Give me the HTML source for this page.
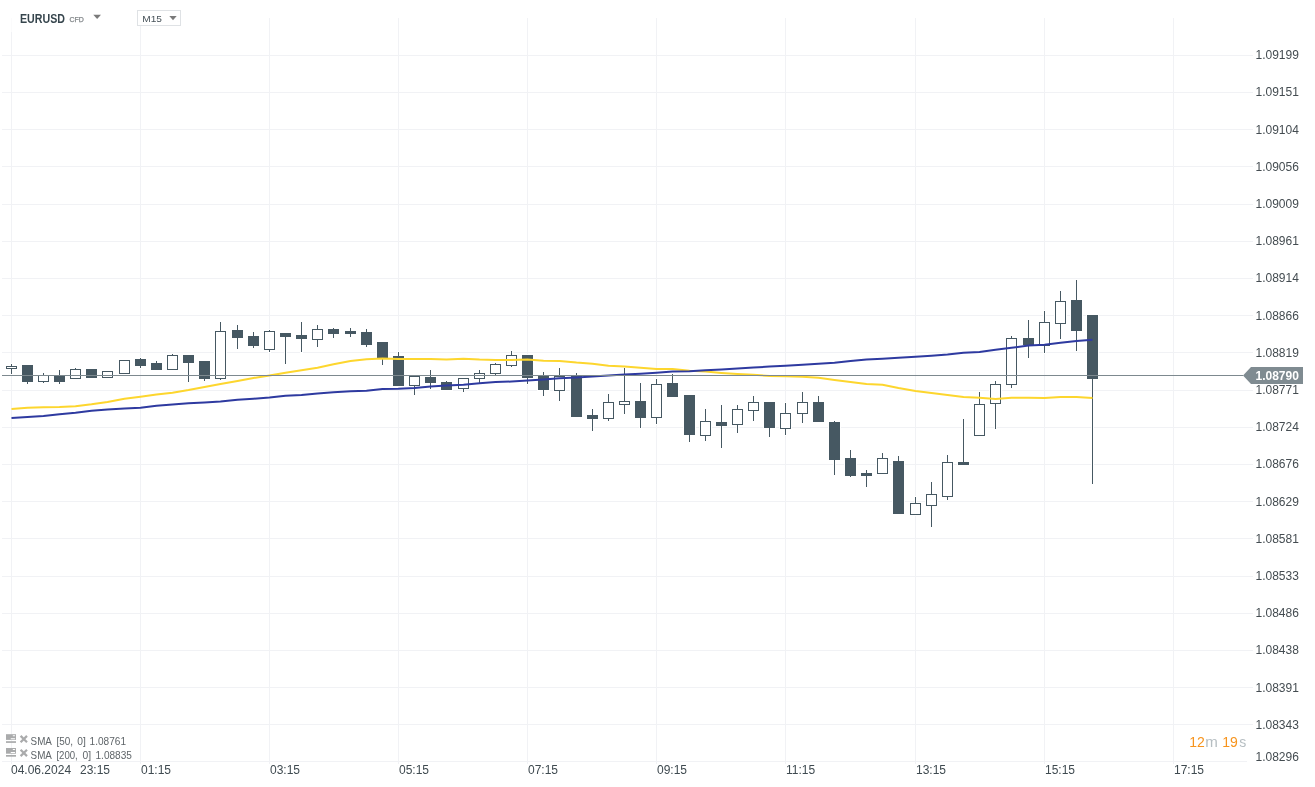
<!DOCTYPE html>
<html><head><meta charset="utf-8"><style>
html,body{margin:0;padding:0;background:#fff;}
body{width:1315px;height:787px;overflow:hidden;font-family:"Liberation Sans",sans-serif;}
svg{display:block;will-change:transform;}
</style></head><body>
<svg width="1315" height="787" viewBox="0 0 1315 787">
<rect width="1315" height="787" fill="#fff"/>
<rect x="11" y="18" width="1" height="746" fill="#f1f2f5"/>
<rect x="140" y="18" width="1" height="746" fill="#f1f2f5"/>
<rect x="269" y="18" width="1" height="746" fill="#f1f2f5"/>
<rect x="398" y="18" width="1" height="746" fill="#f1f2f5"/>
<rect x="527" y="18" width="1" height="746" fill="#f1f2f5"/>
<rect x="656" y="18" width="1" height="746" fill="#f1f2f5"/>
<rect x="785" y="18" width="1" height="746" fill="#f1f2f5"/>
<rect x="915" y="18" width="1" height="746" fill="#f1f2f5"/>
<rect x="1044" y="18" width="1" height="746" fill="#f1f2f5"/>
<rect x="1173" y="18" width="1" height="746" fill="#f1f2f5"/>
<rect x="2" y="55" width="1251" height="1" fill="#f1f2f5"/>
<rect x="2" y="92" width="1251" height="1" fill="#f1f2f5"/>
<rect x="2" y="129" width="1251" height="1" fill="#f1f2f5"/>
<rect x="2" y="166" width="1251" height="1" fill="#f1f2f5"/>
<rect x="2" y="204" width="1251" height="1" fill="#f1f2f5"/>
<rect x="2" y="241" width="1251" height="1" fill="#f1f2f5"/>
<rect x="2" y="278" width="1251" height="1" fill="#f1f2f5"/>
<rect x="2" y="315" width="1251" height="1" fill="#f1f2f5"/>
<rect x="2" y="352" width="1251" height="1" fill="#f1f2f5"/>
<rect x="2" y="390" width="1251" height="1" fill="#f1f2f5"/>
<rect x="2" y="427" width="1251" height="1" fill="#f1f2f5"/>
<rect x="2" y="464" width="1251" height="1" fill="#f1f2f5"/>
<rect x="2" y="501" width="1251" height="1" fill="#f1f2f5"/>
<rect x="2" y="538" width="1251" height="1" fill="#f1f2f5"/>
<rect x="2" y="576" width="1251" height="1" fill="#f1f2f5"/>
<rect x="2" y="613" width="1251" height="1" fill="#f1f2f5"/>
<rect x="2" y="650" width="1251" height="1" fill="#f1f2f5"/>
<rect x="2" y="687" width="1251" height="1" fill="#f1f2f5"/>
<rect x="2" y="724" width="1251" height="1" fill="#f1f2f5"/>
<rect x="2" y="761" width="1245" height="1" fill="#f1f2f5"/>
<rect x="0" y="18" width="110" height="14" fill="#fff" fill-opacity="0.7"/>
<g fill="#fff"><rect x="5" y="365" width="13" height="5"/><rect x="10" y="363" width="3" height="3"/><rect x="10" y="369" width="3" height="6"/><rect x="21" y="364" width="13" height="19"/><rect x="26" y="382" width="3" height="3"/><rect x="37" y="374" width="13" height="9"/><rect x="42" y="372" width="3" height="3"/><rect x="42" y="382" width="3" height="2"/><rect x="53" y="375" width="13" height="8"/><rect x="58" y="369" width="3" height="7"/><rect x="58" y="382" width="3" height="3"/><rect x="69" y="368" width="13" height="12"/><rect x="74" y="367" width="3" height="2"/><rect x="85" y="368" width="13" height="11"/><rect x="101" y="370" width="13" height="9"/><rect x="118" y="359" width="13" height="16"/><rect x="134" y="358" width="13" height="9"/><rect x="139" y="357" width="3" height="2"/><rect x="139" y="366" width="3" height="3"/><rect x="150" y="362" width="13" height="9"/><rect x="155" y="360" width="3" height="3"/><rect x="166" y="354" width="13" height="17"/><rect x="171" y="353" width="3" height="2"/><rect x="182" y="354" width="13" height="10"/><rect x="187" y="363" width="3" height="20"/><rect x="198" y="360" width="13" height="20"/><rect x="203" y="379" width="3" height="3"/><rect x="214" y="330" width="13" height="50"/><rect x="219" y="321" width="3" height="10"/><rect x="219" y="379" width="3" height="2"/><rect x="231" y="329" width="13" height="10"/><rect x="236" y="324" width="3" height="6"/><rect x="236" y="338" width="3" height="12"/><rect x="247" y="335" width="13" height="12"/><rect x="252" y="331" width="3" height="5"/><rect x="252" y="346" width="3" height="3"/><rect x="263" y="330" width="13" height="21"/><rect x="268" y="329" width="3" height="2"/><rect x="268" y="350" width="3" height="3"/><rect x="279" y="332" width="13" height="6"/><rect x="284" y="337" width="3" height="28"/><rect x="295" y="334" width="13" height="6"/><rect x="300" y="321" width="3" height="14"/><rect x="300" y="339" width="3" height="14"/><rect x="311" y="328" width="13" height="13"/><rect x="316" y="324" width="3" height="5"/><rect x="316" y="340" width="3" height="8"/><rect x="327" y="328" width="13" height="7"/><rect x="332" y="327" width="3" height="2"/><rect x="332" y="334" width="3" height="5"/><rect x="344" y="330" width="13" height="5"/><rect x="349" y="327" width="3" height="4"/><rect x="349" y="334" width="3" height="4"/><rect x="360" y="331" width="13" height="15"/><rect x="365" y="328" width="3" height="4"/><rect x="365" y="345" width="3" height="3"/><rect x="376" y="341" width="13" height="18"/><rect x="381" y="358" width="3" height="8"/><rect x="392" y="355" width="13" height="32"/><rect x="397" y="351" width="3" height="5"/><rect x="408" y="375" width="13" height="12"/><rect x="413" y="386" width="3" height="10"/><rect x="424" y="376" width="13" height="8"/><rect x="429" y="369" width="3" height="8"/><rect x="429" y="383" width="3" height="7"/><rect x="440" y="381" width="13" height="10"/><rect x="445" y="380" width="3" height="2"/><rect x="457" y="377" width="13" height="13"/><rect x="462" y="389" width="3" height="4"/><rect x="473" y="372" width="13" height="8"/><rect x="478" y="369" width="3" height="4"/><rect x="478" y="379" width="3" height="5"/><rect x="489" y="363" width="13" height="12"/><rect x="494" y="362" width="3" height="2"/><rect x="494" y="374" width="3" height="2"/><rect x="505" y="354" width="13" height="13"/><rect x="510" y="350" width="3" height="5"/><rect x="510" y="366" width="3" height="2"/><rect x="521" y="354" width="13" height="25"/><rect x="526" y="378" width="3" height="7"/><rect x="537" y="375" width="13" height="16"/><rect x="542" y="371" width="3" height="5"/><rect x="542" y="390" width="3" height="7"/><rect x="553" y="375" width="13" height="17"/><rect x="558" y="367" width="3" height="9"/><rect x="558" y="391" width="3" height="11"/><rect x="570" y="375" width="13" height="43"/><rect x="575" y="372" width="3" height="4"/><rect x="586" y="414" width="13" height="6"/><rect x="591" y="408" width="3" height="7"/><rect x="591" y="419" width="3" height="13"/><rect x="602" y="401" width="13" height="19"/><rect x="607" y="393" width="3" height="9"/><rect x="607" y="419" width="3" height="3"/><rect x="618" y="400" width="13" height="6"/><rect x="623" y="367" width="3" height="34"/><rect x="623" y="405" width="3" height="10"/><rect x="634" y="400" width="13" height="19"/><rect x="639" y="382" width="3" height="19"/><rect x="639" y="418" width="3" height="11"/><rect x="650" y="383" width="13" height="36"/><rect x="655" y="378" width="3" height="6"/><rect x="655" y="418" width="3" height="7"/><rect x="666" y="382" width="13" height="16"/><rect x="671" y="373" width="3" height="10"/><rect x="683" y="394" width="13" height="42"/><rect x="688" y="435" width="3" height="8"/><rect x="699" y="420" width="13" height="17"/><rect x="704" y="408" width="3" height="13"/><rect x="704" y="436" width="3" height="6"/><rect x="715" y="421" width="13" height="6"/><rect x="720" y="404" width="3" height="18"/><rect x="720" y="426" width="3" height="23"/><rect x="731" y="408" width="13" height="18"/><rect x="736" y="404" width="3" height="5"/><rect x="736" y="425" width="3" height="9"/><rect x="747" y="401" width="13" height="11"/><rect x="752" y="395" width="3" height="7"/><rect x="752" y="411" width="3" height="11"/><rect x="763" y="401" width="13" height="28"/><rect x="768" y="428" width="3" height="10"/><rect x="779" y="412" width="13" height="18"/><rect x="784" y="402" width="3" height="11"/><rect x="784" y="429" width="3" height="7"/><rect x="796" y="401" width="13" height="14"/><rect x="801" y="391" width="3" height="11"/><rect x="801" y="414" width="3" height="10"/><rect x="812" y="401" width="13" height="22"/><rect x="817" y="395" width="3" height="7"/><rect x="828" y="421" width="13" height="40"/><rect x="833" y="420" width="3" height="2"/><rect x="833" y="460" width="3" height="16"/><rect x="844" y="457" width="13" height="20"/><rect x="849" y="449" width="3" height="9"/><rect x="849" y="476" width="3" height="2"/><rect x="860" y="472" width="13" height="5"/><rect x="865" y="469" width="3" height="4"/><rect x="865" y="476" width="3" height="12"/><rect x="876" y="457" width="13" height="18"/><rect x="881" y="452" width="3" height="6"/><rect x="892" y="460" width="13" height="55"/><rect x="897" y="455" width="3" height="6"/><rect x="909" y="502" width="13" height="14"/><rect x="914" y="496" width="3" height="7"/><rect x="925" y="493" width="13" height="14"/><rect x="930" y="481" width="3" height="13"/><rect x="930" y="506" width="3" height="22"/><rect x="941" y="461" width="13" height="37"/><rect x="946" y="454" width="3" height="8"/><rect x="946" y="497" width="3" height="4"/><rect x="957" y="461" width="13" height="5"/><rect x="962" y="418" width="3" height="44"/><rect x="973" y="403" width="13" height="34"/><rect x="978" y="391" width="3" height="13"/><rect x="989" y="383" width="13" height="22"/><rect x="994" y="380" width="3" height="4"/><rect x="994" y="404" width="3" height="26"/><rect x="1005" y="337" width="13" height="49"/><rect x="1010" y="335" width="3" height="3"/><rect x="1010" y="385" width="3" height="4"/><rect x="1022" y="337" width="13" height="9"/><rect x="1027" y="319" width="3" height="19"/><rect x="1027" y="345" width="3" height="14"/><rect x="1038" y="321" width="13" height="26"/><rect x="1043" y="310" width="3" height="12"/><rect x="1043" y="346" width="3" height="8"/><rect x="1054" y="300" width="13" height="25"/><rect x="1059" y="290" width="3" height="11"/><rect x="1059" y="324" width="3" height="16"/><rect x="1070" y="299" width="13" height="33"/><rect x="1075" y="279" width="3" height="21"/><rect x="1075" y="331" width="3" height="21"/><rect x="1086" y="314" width="13" height="66"/><rect x="1091" y="379" width="3" height="106"/></g>
<g fill="#465862"><rect x="11" y="364" width="1" height="2"/><rect x="11" y="369" width="1" height="5"/><rect x="6" y="366" width="11" height="1"/><rect x="6" y="368" width="11" height="1"/><rect x="6" y="366" width="1" height="3"/><rect x="16" y="366" width="1" height="3"/><rect x="27" y="382" width="1" height="2"/><rect x="22" y="365" width="11" height="17"/><rect x="43" y="373" width="1" height="2"/><rect x="43" y="382" width="1" height="1"/><rect x="38" y="375" width="11" height="1"/><rect x="38" y="381" width="11" height="1"/><rect x="38" y="375" width="1" height="7"/><rect x="48" y="375" width="1" height="7"/><rect x="59" y="370" width="1" height="6"/><rect x="59" y="382" width="1" height="2"/><rect x="54" y="376" width="11" height="6"/><rect x="75" y="368" width="1" height="1"/><rect x="70" y="369" width="11" height="1"/><rect x="70" y="378" width="11" height="1"/><rect x="70" y="369" width="1" height="10"/><rect x="80" y="369" width="1" height="10"/><rect x="86" y="369" width="11" height="9"/><rect x="102" y="371" width="11" height="1"/><rect x="102" y="377" width="11" height="1"/><rect x="102" y="371" width="1" height="7"/><rect x="112" y="371" width="1" height="7"/><rect x="119" y="360" width="11" height="1"/><rect x="119" y="373" width="11" height="1"/><rect x="119" y="360" width="1" height="14"/><rect x="129" y="360" width="1" height="14"/><rect x="140" y="358" width="1" height="1"/><rect x="140" y="366" width="1" height="2"/><rect x="135" y="359" width="11" height="7"/><rect x="156" y="361" width="1" height="2"/><rect x="151" y="363" width="11" height="7"/><rect x="172" y="354" width="1" height="1"/><rect x="167" y="355" width="11" height="1"/><rect x="167" y="369" width="11" height="1"/><rect x="167" y="355" width="1" height="15"/><rect x="177" y="355" width="1" height="15"/><rect x="188" y="363" width="1" height="19"/><rect x="183" y="355" width="11" height="8"/><rect x="204" y="379" width="1" height="2"/><rect x="199" y="361" width="11" height="18"/><rect x="220" y="322" width="1" height="9"/><rect x="220" y="379" width="1" height="1"/><rect x="215" y="331" width="11" height="1"/><rect x="215" y="378" width="11" height="1"/><rect x="215" y="331" width="1" height="48"/><rect x="225" y="331" width="1" height="48"/><rect x="237" y="325" width="1" height="5"/><rect x="237" y="338" width="1" height="11"/><rect x="232" y="330" width="11" height="8"/><rect x="253" y="332" width="1" height="4"/><rect x="253" y="346" width="1" height="2"/><rect x="248" y="336" width="11" height="10"/><rect x="269" y="330" width="1" height="1"/><rect x="269" y="350" width="1" height="2"/><rect x="264" y="331" width="11" height="1"/><rect x="264" y="349" width="11" height="1"/><rect x="264" y="331" width="1" height="19"/><rect x="274" y="331" width="1" height="19"/><rect x="285" y="337" width="1" height="27"/><rect x="280" y="333" width="11" height="4"/><rect x="301" y="322" width="1" height="13"/><rect x="301" y="339" width="1" height="13"/><rect x="296" y="335" width="11" height="4"/><rect x="317" y="325" width="1" height="4"/><rect x="317" y="340" width="1" height="7"/><rect x="312" y="329" width="11" height="1"/><rect x="312" y="339" width="11" height="1"/><rect x="312" y="329" width="1" height="11"/><rect x="322" y="329" width="1" height="11"/><rect x="333" y="328" width="1" height="1"/><rect x="333" y="334" width="1" height="4"/><rect x="328" y="329" width="11" height="5"/><rect x="350" y="328" width="1" height="3"/><rect x="350" y="334" width="1" height="3"/><rect x="345" y="331" width="11" height="3"/><rect x="366" y="329" width="1" height="3"/><rect x="366" y="345" width="1" height="2"/><rect x="361" y="332" width="11" height="13"/><rect x="382" y="358" width="1" height="7"/><rect x="377" y="342" width="11" height="16"/><rect x="398" y="352" width="1" height="4"/><rect x="393" y="356" width="11" height="30"/><rect x="414" y="386" width="1" height="9"/><rect x="409" y="376" width="11" height="1"/><rect x="409" y="385" width="11" height="1"/><rect x="409" y="376" width="1" height="10"/><rect x="419" y="376" width="1" height="10"/><rect x="430" y="370" width="1" height="7"/><rect x="430" y="383" width="1" height="6"/><rect x="425" y="377" width="11" height="6"/><rect x="446" y="381" width="1" height="1"/><rect x="441" y="382" width="11" height="8"/><rect x="463" y="389" width="1" height="3"/><rect x="458" y="378" width="11" height="1"/><rect x="458" y="388" width="11" height="1"/><rect x="458" y="378" width="1" height="11"/><rect x="468" y="378" width="1" height="11"/><rect x="479" y="370" width="1" height="3"/><rect x="479" y="379" width="1" height="4"/><rect x="474" y="373" width="11" height="1"/><rect x="474" y="378" width="11" height="1"/><rect x="474" y="373" width="1" height="6"/><rect x="484" y="373" width="1" height="6"/><rect x="495" y="363" width="1" height="1"/><rect x="495" y="374" width="1" height="1"/><rect x="490" y="364" width="11" height="1"/><rect x="490" y="373" width="11" height="1"/><rect x="490" y="364" width="1" height="10"/><rect x="500" y="364" width="1" height="10"/><rect x="511" y="351" width="1" height="4"/><rect x="511" y="366" width="1" height="1"/><rect x="506" y="355" width="11" height="1"/><rect x="506" y="365" width="11" height="1"/><rect x="506" y="355" width="1" height="11"/><rect x="516" y="355" width="1" height="11"/><rect x="527" y="378" width="1" height="6"/><rect x="522" y="355" width="11" height="23"/><rect x="543" y="372" width="1" height="4"/><rect x="543" y="390" width="1" height="6"/><rect x="538" y="376" width="11" height="14"/><rect x="559" y="368" width="1" height="8"/><rect x="559" y="391" width="1" height="10"/><rect x="554" y="376" width="11" height="1"/><rect x="554" y="390" width="11" height="1"/><rect x="554" y="376" width="1" height="15"/><rect x="564" y="376" width="1" height="15"/><rect x="576" y="373" width="1" height="3"/><rect x="571" y="376" width="11" height="41"/><rect x="592" y="409" width="1" height="6"/><rect x="592" y="419" width="1" height="12"/><rect x="587" y="415" width="11" height="4"/><rect x="608" y="394" width="1" height="8"/><rect x="608" y="419" width="1" height="2"/><rect x="603" y="402" width="11" height="1"/><rect x="603" y="418" width="11" height="1"/><rect x="603" y="402" width="1" height="17"/><rect x="613" y="402" width="1" height="17"/><rect x="624" y="368" width="1" height="33"/><rect x="624" y="405" width="1" height="9"/><rect x="619" y="401" width="11" height="1"/><rect x="619" y="404" width="11" height="1"/><rect x="619" y="401" width="1" height="4"/><rect x="629" y="401" width="1" height="4"/><rect x="640" y="383" width="1" height="18"/><rect x="640" y="418" width="1" height="10"/><rect x="635" y="401" width="11" height="17"/><rect x="656" y="379" width="1" height="5"/><rect x="656" y="418" width="1" height="6"/><rect x="651" y="384" width="11" height="1"/><rect x="651" y="417" width="11" height="1"/><rect x="651" y="384" width="1" height="34"/><rect x="661" y="384" width="1" height="34"/><rect x="672" y="374" width="1" height="9"/><rect x="667" y="383" width="11" height="14"/><rect x="689" y="435" width="1" height="7"/><rect x="684" y="395" width="11" height="40"/><rect x="705" y="409" width="1" height="12"/><rect x="705" y="436" width="1" height="5"/><rect x="700" y="421" width="11" height="1"/><rect x="700" y="435" width="11" height="1"/><rect x="700" y="421" width="1" height="15"/><rect x="710" y="421" width="1" height="15"/><rect x="721" y="405" width="1" height="17"/><rect x="721" y="426" width="1" height="22"/><rect x="716" y="422" width="11" height="4"/><rect x="737" y="405" width="1" height="4"/><rect x="737" y="425" width="1" height="8"/><rect x="732" y="409" width="11" height="1"/><rect x="732" y="424" width="11" height="1"/><rect x="732" y="409" width="1" height="16"/><rect x="742" y="409" width="1" height="16"/><rect x="753" y="396" width="1" height="6"/><rect x="753" y="411" width="1" height="10"/><rect x="748" y="402" width="11" height="1"/><rect x="748" y="410" width="11" height="1"/><rect x="748" y="402" width="1" height="9"/><rect x="758" y="402" width="1" height="9"/><rect x="769" y="428" width="1" height="9"/><rect x="764" y="402" width="11" height="26"/><rect x="785" y="403" width="1" height="10"/><rect x="785" y="429" width="1" height="6"/><rect x="780" y="413" width="11" height="1"/><rect x="780" y="428" width="11" height="1"/><rect x="780" y="413" width="1" height="16"/><rect x="790" y="413" width="1" height="16"/><rect x="802" y="392" width="1" height="10"/><rect x="802" y="414" width="1" height="9"/><rect x="797" y="402" width="11" height="1"/><rect x="797" y="413" width="11" height="1"/><rect x="797" y="402" width="1" height="12"/><rect x="807" y="402" width="1" height="12"/><rect x="818" y="396" width="1" height="6"/><rect x="813" y="402" width="11" height="20"/><rect x="834" y="421" width="1" height="1"/><rect x="834" y="460" width="1" height="15"/><rect x="829" y="422" width="11" height="38"/><rect x="850" y="450" width="1" height="8"/><rect x="850" y="476" width="1" height="1"/><rect x="845" y="458" width="11" height="18"/><rect x="866" y="470" width="1" height="3"/><rect x="866" y="476" width="1" height="11"/><rect x="861" y="473" width="11" height="3"/><rect x="882" y="453" width="1" height="5"/><rect x="877" y="458" width="11" height="1"/><rect x="877" y="473" width="11" height="1"/><rect x="877" y="458" width="1" height="16"/><rect x="887" y="458" width="1" height="16"/><rect x="898" y="456" width="1" height="5"/><rect x="893" y="461" width="11" height="53"/><rect x="915" y="497" width="1" height="6"/><rect x="910" y="503" width="11" height="1"/><rect x="910" y="514" width="11" height="1"/><rect x="910" y="503" width="1" height="12"/><rect x="920" y="503" width="1" height="12"/><rect x="931" y="482" width="1" height="12"/><rect x="931" y="506" width="1" height="21"/><rect x="926" y="494" width="11" height="1"/><rect x="926" y="505" width="11" height="1"/><rect x="926" y="494" width="1" height="12"/><rect x="936" y="494" width="1" height="12"/><rect x="947" y="455" width="1" height="7"/><rect x="947" y="497" width="1" height="3"/><rect x="942" y="462" width="11" height="1"/><rect x="942" y="496" width="11" height="1"/><rect x="942" y="462" width="1" height="35"/><rect x="952" y="462" width="1" height="35"/><rect x="963" y="419" width="1" height="43"/><rect x="958" y="462" width="11" height="3"/><rect x="979" y="392" width="1" height="12"/><rect x="974" y="404" width="11" height="1"/><rect x="974" y="435" width="11" height="1"/><rect x="974" y="404" width="1" height="32"/><rect x="984" y="404" width="1" height="32"/><rect x="995" y="381" width="1" height="3"/><rect x="995" y="404" width="1" height="25"/><rect x="990" y="384" width="11" height="1"/><rect x="990" y="403" width="11" height="1"/><rect x="990" y="384" width="1" height="20"/><rect x="1000" y="384" width="1" height="20"/><rect x="1011" y="336" width="1" height="2"/><rect x="1011" y="385" width="1" height="3"/><rect x="1006" y="338" width="11" height="1"/><rect x="1006" y="384" width="11" height="1"/><rect x="1006" y="338" width="1" height="47"/><rect x="1016" y="338" width="1" height="47"/><rect x="1028" y="320" width="1" height="18"/><rect x="1028" y="345" width="1" height="13"/><rect x="1023" y="338" width="11" height="7"/><rect x="1044" y="311" width="1" height="11"/><rect x="1044" y="346" width="1" height="7"/><rect x="1039" y="322" width="11" height="1"/><rect x="1039" y="345" width="11" height="1"/><rect x="1039" y="322" width="1" height="24"/><rect x="1049" y="322" width="1" height="24"/><rect x="1060" y="291" width="1" height="10"/><rect x="1060" y="324" width="1" height="15"/><rect x="1055" y="301" width="11" height="1"/><rect x="1055" y="323" width="11" height="1"/><rect x="1055" y="301" width="1" height="23"/><rect x="1065" y="301" width="1" height="23"/><rect x="1076" y="280" width="1" height="20"/><rect x="1076" y="331" width="1" height="20"/><rect x="1071" y="300" width="11" height="31"/><rect x="1092" y="379" width="1" height="105"/><rect x="1087" y="315" width="11" height="64"/></g>
<polyline points="11.5,409.0 27.5,407.8 43.5,407.2 59.5,406.9 75.5,406.2 91.5,404.3 107.5,401.9 124.5,398.7 140.5,396.7 156.5,394.6 172.5,392.7 188.5,390.1 204.5,386.9 220.5,384.1 237.5,381.0 253.5,378.0 269.5,375.5 285.5,372.8 301.5,370.3 317.5,367.7 333.5,364.3 350.5,361.1 366.5,359.3 382.5,358.6 398.5,358.9 414.5,358.9 430.5,358.9 446.5,359.6 463.5,358.7 479.5,359.6 495.5,359.9 511.5,359.9 527.5,359.6 543.5,360.8 559.5,361.0 576.5,362.6 592.5,363.7 608.5,365.7 624.5,366.6 640.5,367.7 656.5,368.9 672.5,368.9 689.5,370.7 705.5,371.6 721.5,372.9 737.5,373.9 753.5,374.8 769.5,375.9 785.5,376.2 802.5,376.8 818.5,377.7 834.5,379.9 850.5,381.9 866.5,383.9 882.5,384.7 898.5,387.9 915.5,390.9 931.5,393.1 947.5,395.0 963.5,396.9 979.5,397.8 995.5,398.9 1011.5,397.8 1028.5,397.8 1044.5,397.9 1060.5,396.9 1076.5,396.9 1092.5,397.9" fill="none" stroke="#fdd62e" stroke-width="2" stroke-linejoin="round"/>
<polyline points="11.5,417.9 27.5,417.0 43.5,415.9 59.5,414.2 75.5,412.8 91.5,410.7 107.5,409.6 124.5,408.5 140.5,407.8 156.5,405.8 172.5,404.5 188.5,403.3 204.5,402.4 220.5,401.5 237.5,399.7 253.5,398.7 269.5,397.6 285.5,395.8 301.5,394.9 317.5,393.5 333.5,392.2 350.5,391.2 366.5,390.8 382.5,389.0 398.5,388.8 414.5,387.9 430.5,386.5 446.5,385.6 463.5,384.7 479.5,383.3 495.5,382.1 511.5,381.5 527.5,380.6 543.5,379.4 559.5,378.3 576.5,377.4 592.5,376.5 608.5,375.4 624.5,374.6 640.5,373.7 656.5,372.8 672.5,371.6 689.5,371.2 705.5,370.3 721.5,369.5 737.5,368.6 753.5,367.5 769.5,366.6 785.5,365.7 802.5,364.8 818.5,363.7 834.5,362.7 850.5,361.0 866.5,359.6 882.5,358.7 898.5,357.8 915.5,356.7 931.5,355.7 947.5,354.5 963.5,352.8 979.5,351.9 995.5,349.8 1011.5,347.8 1028.5,345.5 1044.5,344.7 1060.5,342.7 1076.5,341.0 1092.5,339.8" fill="none" stroke="#2e3aa0" stroke-width="2" stroke-linejoin="round"/>
<rect x="2" y="375" width="1241" height="1" fill="#7d898f"/>
<text x="1255.5" y="59" font-size="12" fill="#444c51" font-family="Liberation Sans, sans-serif">1.09199</text>
<text x="1255.5" y="96" font-size="12" fill="#444c51" font-family="Liberation Sans, sans-serif">1.09151</text>
<text x="1255.5" y="134" font-size="12" fill="#444c51" font-family="Liberation Sans, sans-serif">1.09104</text>
<text x="1255.5" y="171" font-size="12" fill="#444c51" font-family="Liberation Sans, sans-serif">1.09056</text>
<text x="1255.5" y="208" font-size="12" fill="#444c51" font-family="Liberation Sans, sans-serif">1.09009</text>
<text x="1255.5" y="245" font-size="12" fill="#444c51" font-family="Liberation Sans, sans-serif">1.08961</text>
<text x="1255.5" y="282" font-size="12" fill="#444c51" font-family="Liberation Sans, sans-serif">1.08914</text>
<text x="1255.5" y="320" font-size="12" fill="#444c51" font-family="Liberation Sans, sans-serif">1.08866</text>
<text x="1255.5" y="357" font-size="12" fill="#444c51" font-family="Liberation Sans, sans-serif">1.08819</text>
<text x="1255.5" y="394" font-size="12" fill="#444c51" font-family="Liberation Sans, sans-serif">1.08771</text>
<text x="1255.5" y="431" font-size="12" fill="#444c51" font-family="Liberation Sans, sans-serif">1.08724</text>
<text x="1255.5" y="468" font-size="12" fill="#444c51" font-family="Liberation Sans, sans-serif">1.08676</text>
<text x="1255.5" y="506" font-size="12" fill="#444c51" font-family="Liberation Sans, sans-serif">1.08629</text>
<text x="1255.5" y="543" font-size="12" fill="#444c51" font-family="Liberation Sans, sans-serif">1.08581</text>
<text x="1255.5" y="580" font-size="12" fill="#444c51" font-family="Liberation Sans, sans-serif">1.08533</text>
<text x="1255.5" y="617" font-size="12" fill="#444c51" font-family="Liberation Sans, sans-serif">1.08486</text>
<text x="1255.5" y="654" font-size="12" fill="#444c51" font-family="Liberation Sans, sans-serif">1.08438</text>
<text x="1255.5" y="692" font-size="12" fill="#444c51" font-family="Liberation Sans, sans-serif">1.08391</text>
<text x="1255.5" y="729" font-size="12" fill="#444c51" font-family="Liberation Sans, sans-serif">1.08343</text>
<text x="1255.5" y="761" font-size="12" fill="#444c51" font-family="Liberation Sans, sans-serif">1.08296</text>
<path d="M1243,375.5 L1251,367 L1303,367 L1303,384 L1251,384 Z" fill="#7f8b91"/>
<text x="1255.5" y="380" font-size="12" font-weight="bold" fill="#fff" font-family="Liberation Sans, sans-serif">1.08790</text>
<text x="11" y="774" font-size="12" fill="#3f4a50" font-family="Liberation Sans, sans-serif">04.06.2024</text>
<text x="80" y="774" font-size="12" fill="#3f4a50" font-family="Liberation Sans, sans-serif">23:15</text>
<text x="141" y="774" font-size="12" fill="#3f4a50" font-family="Liberation Sans, sans-serif">01:15</text>
<text x="270" y="774" font-size="12" fill="#3f4a50" font-family="Liberation Sans, sans-serif">03:15</text>
<text x="399" y="774" font-size="12" fill="#3f4a50" font-family="Liberation Sans, sans-serif">05:15</text>
<text x="528" y="774" font-size="12" fill="#3f4a50" font-family="Liberation Sans, sans-serif">07:15</text>
<text x="657" y="774" font-size="12" fill="#3f4a50" font-family="Liberation Sans, sans-serif">09:15</text>
<text x="786" y="774" font-size="12" fill="#3f4a50" font-family="Liberation Sans, sans-serif">11:15</text>
<text x="916" y="774" font-size="12" fill="#3f4a50" font-family="Liberation Sans, sans-serif">13:15</text>
<text x="1045" y="774" font-size="12" fill="#3f4a50" font-family="Liberation Sans, sans-serif">15:15</text>
<text x="1174" y="774" font-size="12" fill="#3f4a50" font-family="Liberation Sans, sans-serif">17:15</text>
<text x="20" y="22.9" font-size="12.7" font-weight="bold" fill="#36454d" textLength="45" lengthAdjust="spacingAndGlyphs" font-family="Liberation Sans, sans-serif">EURUSD</text>
<text x="69.5" y="21.7" font-size="7.8" fill="#808588" stroke="#808588" stroke-width="0.25" textLength="14.4" lengthAdjust="spacingAndGlyphs" font-family="Liberation Sans, sans-serif">CFD</text>
<path d="M93.3,14.8 L101,14.8 L97.15,18.9 Z" fill="#7a7a7a"/>
<rect x="137.5" y="10.5" width="43" height="15" fill="#fff" stroke="#dfe2e5" stroke-width="1"/>
<text x="142.3" y="22" font-size="9.6" fill="#48535a" textLength="19.7" lengthAdjust="spacingAndGlyphs" font-family="Liberation Sans, sans-serif">M15</text>
<path d="M169.3,16.1 L176.7,16.1 L173,20.2 Z" fill="#7a7a7a"/>
<rect x="6" y="734.2" width="10" height="5.7" fill="#aaabac"/><rect x="12.6" y="735.3000000000001" width="2.6" height="0.9" rx="0.45" fill="#fff"/><rect x="10.6" y="738.2" width="4.6" height="1.0" rx="0.5" fill="#fff"/><rect x="6" y="741.2" width="10" height="1.7" fill="#aaabac"/><path d="M20.6,735.9000000000001 L27,742.3000000000001 M27,735.9000000000001 L20.6,742.3000000000001" stroke="#aaabac" stroke-width="2.2"/><text x="30.6" y="744.7" font-size="10.2" fill="#5f6569" textLength="21.3" lengthAdjust="spacingAndGlyphs" font-family="Liberation Sans, sans-serif">SMA</text><text x="56.4" y="744.7" font-size="10.2" fill="#5f6569" textLength="16.6" lengthAdjust="spacingAndGlyphs" font-family="Liberation Sans, sans-serif">[50,</text><text x="77.2" y="744.7" font-size="10.2" fill="#5f6569" textLength="8.6" lengthAdjust="spacingAndGlyphs" font-family="Liberation Sans, sans-serif">0]</text><text x="89.6" y="744.7" font-size="10.2" fill="#5f6569" textLength="36.4" lengthAdjust="spacingAndGlyphs" font-family="Liberation Sans, sans-serif">1.08761</text>
<rect x="6" y="748.0" width="10" height="5.7" fill="#aaabac"/><rect x="12.6" y="749.1" width="2.6" height="0.9" rx="0.45" fill="#fff"/><rect x="10.6" y="752.0" width="4.6" height="1.0" rx="0.5" fill="#fff"/><rect x="6" y="755.0" width="10" height="1.7" fill="#aaabac"/><path d="M20.6,749.7 L27,756.1 M27,749.7 L20.6,756.1" stroke="#aaabac" stroke-width="2.2"/><text x="30.6" y="758.5" font-size="10.2" fill="#5f6569" textLength="21.3" lengthAdjust="spacingAndGlyphs" font-family="Liberation Sans, sans-serif">SMA</text><text x="56.4" y="758.5" font-size="10.2" fill="#5f6569" textLength="21.4" lengthAdjust="spacingAndGlyphs" font-family="Liberation Sans, sans-serif">[200,</text><text x="82.6" y="758.5" font-size="10.2" fill="#5f6569" textLength="8.6" lengthAdjust="spacingAndGlyphs" font-family="Liberation Sans, sans-serif">0]</text><text x="95.5" y="758.5" font-size="10.2" fill="#5f6569" textLength="36.4" lengthAdjust="spacingAndGlyphs" font-family="Liberation Sans, sans-serif">1.08835</text>
<text x="1189.3" y="747" font-size="14" fill="#f7941d" font-family="Liberation Sans, sans-serif">12</text>
<text x="1205.3" y="747" font-size="14" fill="#b6bec2" textLength="12.6" lengthAdjust="spacingAndGlyphs" font-family="Liberation Sans, sans-serif">m</text>
<text x="1222.3" y="747" font-size="14" fill="#f7941d" font-family="Liberation Sans, sans-serif">19</text>
<text x="1239.2" y="747" font-size="14" fill="#b6bec2" font-family="Liberation Sans, sans-serif">s</text>
</svg>
</body></html>
